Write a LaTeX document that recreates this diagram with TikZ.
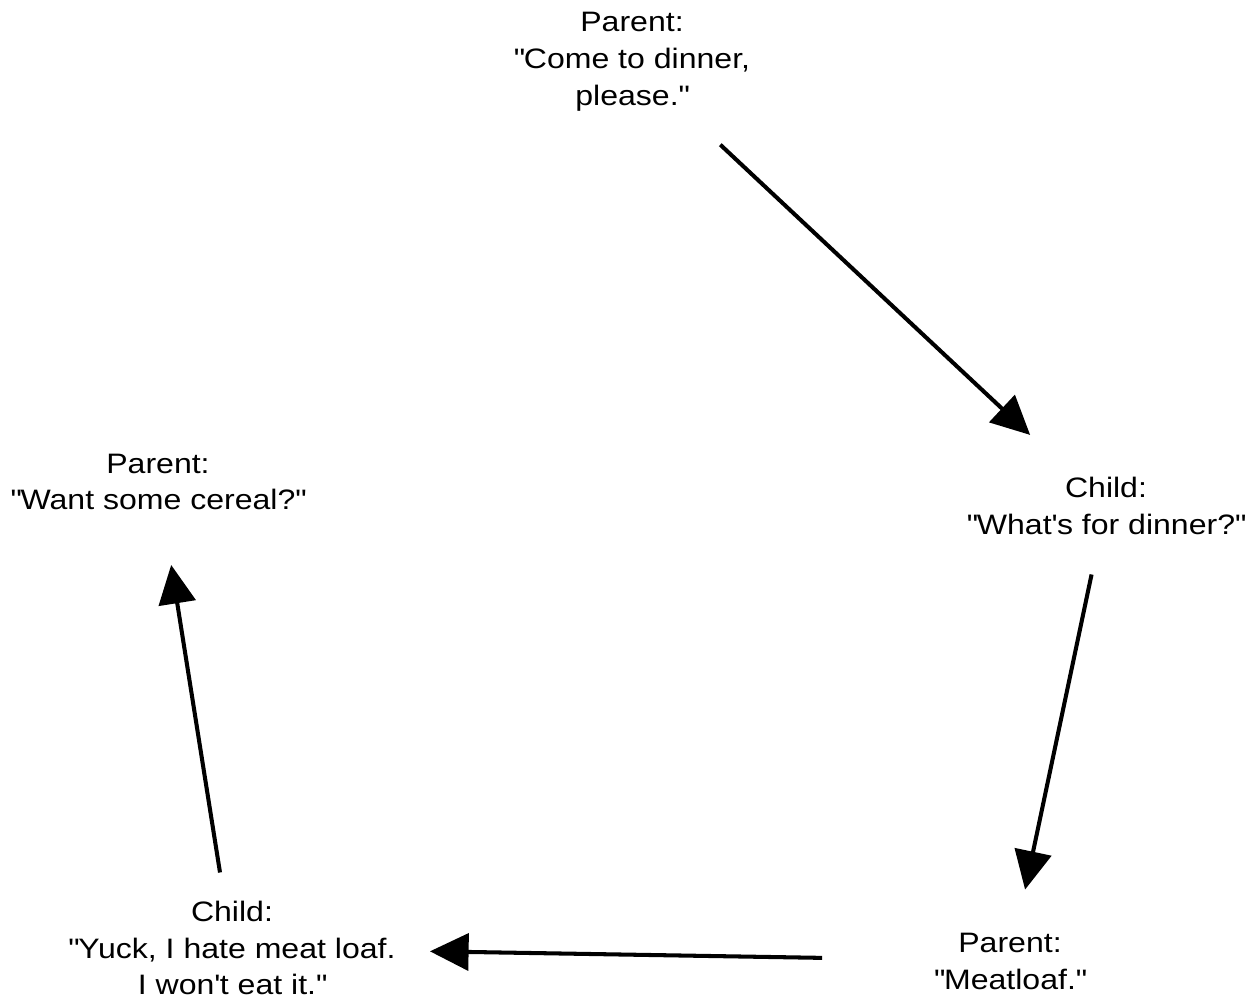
\documentclass[tikz,border=0pt]{standalone}
\usepackage{fontspec}
\setmainfont{Liberation Sans}[FakeStretch=1.14]
\usepackage{tikz}
\usetikzlibrary{arrows.meta}

\begin{document}
\begin{tikzpicture}[x=0.02cm,y=-0.02cm,
    talk/.style={align=center, inner sep=0pt, font=\fontsize{16}{21}\selectfont},
    turn/.style={-{Triangle[length=22pt,width=21pt]}, line width=2.3pt}]
    \useasboundingbox (0,0) rectangle (1256,1004);
    % Draw the five turns of the talk
    \node[talk] (dinner) at (632,62) {Parent:\\\textquotedbl Come to dinner,\\please.\textquotedbl};
    \node[talk] (whatsfor) at (1106,506) {Child:\\\textquotedbl What\textquotesingle s for dinner?\textquotedbl};
    \node[talk] (meatloaf) at (1010,961) {Parent:\\\textquotedbl Meatloaf.\textquotedbl};
    \node[talk] (yuck) at (232,948) {Child:\\\textquotedbl Yuck, I hate meat loaf.\\I won\textquotesingle t eat it.\textquotedbl};
    \node[talk] (cereal) at (158,482) {Parent:\\\textquotedbl Want some cereal?\textquotedbl};
    % Draw the arrows round the circle
    \draw[turn, shorten <=2.42cm, shorten >=2.08cm] (dinner.center) -- (whatsfor.center);
    \draw[turn, shorten <=1.40cm, shorten >=1.46cm] (whatsfor.center) -- (meatloaf.center);
    \draw[turn, shorten <=3.76cm, shorten >=3.96cm] (meatloaf.center) -- (yuck.center);
    \draw[turn, shorten <=1.53cm, shorten >=1.68cm] (yuck.center) -- (cereal.center);
\end{tikzpicture}
\end{document}
